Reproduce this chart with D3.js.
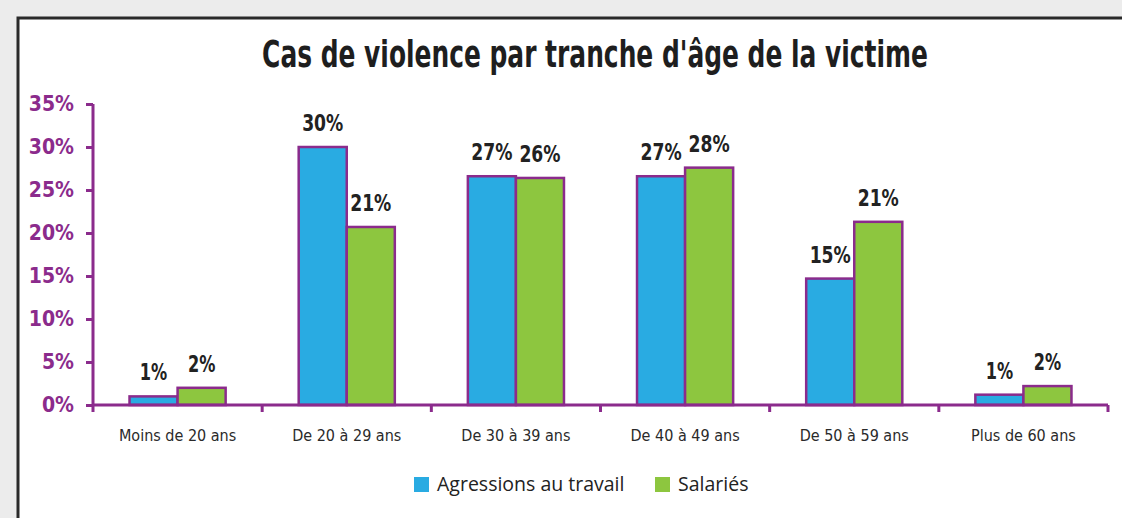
<!DOCTYPE html>
<html>
<head>
<meta charset="utf-8">
<script src="https://cdn.jsdelivr.net/npm/d3@7"></script>
<style>
  html, body { margin: 0; padding: 0; background: #ececec; }
  svg { display: block; }
  .narrow { font-family: "DejaVu Sans Condensed", "Roboto", sans-serif; }
</style>
</head>
<body>
<svg id="chart" width="1122" height="518"></svg>
<script>
var categories = ['Moins de 20 ans', 'De 20 à 29 ans', 'De 30 à 39 ans', 'De 40 à 49 ans', 'De 50 à 59 ans', 'Plus de 60 ans'];
var seriesNames = ['Agressions au travail', 'Salariés'];
var agressions = [1.0, 30.0, 26.6, 26.6, 14.7, 1.2];
var salaries = [2.0, 20.7, 26.4, 27.6, 21.3, 2.2];
var yTicks = [0, 5, 10, 15, 20, 25, 30, 35];

var colors = ['#29abe2', '#8dc63f'];
var purple = '#8b2b8c';

var MARGIN = { LEFT: 93, RIGHT: 14, TOP: 104, BOTTOM: 113 };
var W = 1122, H = 518;

var svg = d3.select('#chart');

// frame
svg.append('rect')
    .attr('x', 18).attr('y', 18)
    .attr('width', W + 10).attr('height', H + 10)
    .attr('fill', '#fff')
    .attr('stroke', '#2a2a2a')
    .attr('stroke-width', 3);

var title = svg.append('text')
    .attr('class', 'narrow')
    .attr('x', 0).attr('y', 0)
    .attr('text-anchor', 'middle')
    .style('font-size', '37px')
    .style('font-weight', 'bold')
    .style('fill', '#1e1e1e')
    .text("Cas de violence par tranche d'âge de la victime");
var titleLen = title.node().getComputedTextLength();
title.attr('transform', 'translate(595,67) scale(' + (666 / titleLen) + ',1)');

var x = d3.scaleBand()
    .domain(categories)
    .range([MARGIN.LEFT, W - MARGIN.RIGHT]);

var xInner = d3.scaleBand()
    .domain([0, 1])
    .range([0, x.bandwidth()])
    .paddingOuter(0.76)
    .paddingInner(0);

var y = d3.scaleLinear()
    .domain([0, 35])
    .range([H - MARGIN.BOTTOM, MARGIN.TOP]);

var data = categories.map(function (c, i) {
    return { cat: c, values: [agressions[i], salaries[i]] };
});

var groups = svg.selectAll('g.cat')
    .data(data)
    .enter()
    .append('g')
    .attr('class', 'cat')
    .attr('transform', function (d) { return 'translate(' + x(d.cat) + ',0)'; });

groups.selectAll('rect')
    .data(function (d) { return d.values; })
    .enter()
    .append('rect')
    .attr('x', function (d, i) { return xInner(i); })
    .attr('y', function (d) { return y(d); })
    .attr('width', xInner.bandwidth())
    .attr('height', function (d) { return y(0) - y(d); })
    .attr('fill', function (d, i) { return colors[i]; })
    .attr('stroke', purple)
    .attr('stroke-width', 2.5);

groups.selectAll('text.val')
    .data(function (d) { return d.values; })
    .enter()
    .append('text')
    .attr('class', 'val narrow')
    .attr('x', function (d, i) { return xInner(i) + xInner.bandwidth() / 2; })
    .attr('y', function (d) { return y(d) - 16; })
    .attr('text-anchor', 'middle')
    .attr('textLength', function (d) { return (String(Math.round(d)).length + 1) * 13.7; })
    .attr('lengthAdjust', 'spacingAndGlyphs')
    .style('font-size', '23px')
    .style('font-weight', 'bold')
    .style('fill', '#222')
    .text(function (d) { return Math.round(d) + '%'; });

// y axis
var yAxis = svg.append('g')
    .attr('transform', 'translate(' + MARGIN.LEFT + ',0)')
    .call(d3.axisLeft(y).tickValues(yTicks).tickSize(7).tickPadding(12)
        .tickFormat(function (d) { return d + '%'; }));
yAxis.select('.domain').attr('stroke', purple).attr('stroke-width', 3)
    .attr('d', 'M0,' + y(35) + 'V' + y(0));
yAxis.selectAll('.tick line').attr('stroke', purple).attr('stroke-width', 3);
yAxis.selectAll('.tick text')
    .attr('class', 'narrow')
    .style('font-size', '21px')
    .style('font-weight', 'bold')
    .style('fill', purple);

// x axis
var xAxis = svg.append('g')
    .attr('transform', 'translate(0,' + y(0) + ')');
xAxis.append('path')
    .attr('d', 'M' + MARGIN.LEFT + ',0H' + (W - MARGIN.RIGHT))
    .attr('stroke', purple).attr('stroke-width', 3).attr('fill', 'none');
xAxis.selectAll('line.tk')
    .data(categories)
    .enter()
    .append('line')
    .attr('class', 'tk')
    .attr('x1', function (d) { return x(d) + x.bandwidth(); })
    .attr('x2', function (d) { return x(d) + x.bandwidth(); })
    .attr('y1', 0).attr('y2', 7)
    .attr('stroke', purple).attr('stroke-width', 3);
xAxis.append('line')
    .attr('x1', MARGIN.LEFT).attr('x2', MARGIN.LEFT)
    .attr('y1', 0).attr('y2', 7)
    .attr('stroke', purple).attr('stroke-width', 3);
xAxis.selectAll('text.cat')
    .data(categories)
    .enter()
    .append('text')
    .attr('class', 'cat narrow')
    .attr('x', function (d) { return x(d) + x.bandwidth() / 2; })
    .attr('y', 36)
    .attr('text-anchor', 'middle')
    .style('font-size', '16px')
    .style('fill', '#2a2a2a')
    .text(function (d) { return d; });

// legend
var legend = svg.append('g');
var legendX = [414, 655];
seriesNames.forEach(function (name, i) {
    legend.append('rect')
        .attr('x', legendX[i]).attr('y', 477)
        .attr('width', 15).attr('height', 15)
        .attr('fill', colors[i]);
    legend.append('text')
        .attr('x', legendX[i] + 23).attr('y', 491)
        .style('font-family', '"Open Sans", "Noto Sans", sans-serif')
        .style('font-size', '19.5px')
        .style('fill', '#222')
        .text(name);
});
</script>
</body>
</html>
